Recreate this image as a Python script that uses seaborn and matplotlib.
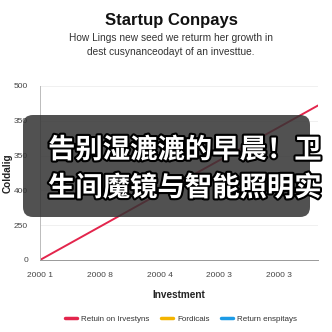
import matplotlib
matplotlib.use("Agg")
import matplotlib.pyplot as plt
import matplotlib.patheffects as pe
from matplotlib.patches import FancyBboxPatch
from matplotlib.lines import Line2D
import seaborn as sns
import pandas as pd

# ---- data ----
x_positions = [0, 4.65]
returns = [0, 444]
x_tick_pos = [0, 1, 2, 3, 4]
x_tick_labels = ["2000 1", "2000 8", "2000 4", "2000 3", "2000 3"]
y_tick_pos = [0, 100, 200, 300, 400, 500]
y_tick_labels = ["0", "250", "400", "350", "350", "500"]
legend_labels = ["Retuin on Irvestyns", "Fordicais", "Return enspitays"]
legend_colors = ["#e3254c", "#f4b400", "#1c9be6"]
title = "Startup Conpays"
subtitle = "How Lings new seed we returm her growth in\ndest cusynanceodayt of an investtue."
overlay_lines = ["告别湿漉漉的早晨！卫", "生间魔镜与智能照明实"]

sns.set_theme(style="white")
plt.rcParams["font.family"] = ["Liberation Sans", "DejaVu Sans"]

W = H = 332
fig = plt.figure(figsize=(3.32, 3.32), dpi=100)
ax = fig.add_axes([40 / W, 1 - 260 / H, (318 - 40) / W, (260 - 86) / H])

df = pd.DataFrame({"x": x_positions, "y": returns})
sns.lineplot(data=df, x="x", y="y", ax=ax, color=legend_colors[0], linewidth=1.4)

ax.set_xlim(0, 4.65)
ax.set_ylim(0, 500)
ax.set_xticks(x_tick_pos)
ax.set_xticklabels(x_tick_labels, fontsize=6, color="#444444")
ax.set_yticks(y_tick_pos)
ax.set_yticklabels(y_tick_labels, fontsize=6, color="#444444")
ax.tick_params(axis="both", length=2.5, width=0.6, color="#888888", pad=6)
ax.grid(axis="y", color="#eeeeee", linewidth=0.6)
for s in ["top", "right"]:
    ax.spines[s].set_visible(False)
ax.spines["left"].set_color("#bbbbbb")
ax.spines["left"].set_linewidth(0.7)
ax.spines["bottom"].set_color("#999999")
ax.spines["bottom"].set_linewidth(0.7)
ax.set_xlabel("Investment", fontsize=7.2, fontweight="bold", color="#222222", labelpad=8)
ax.set_ylabel("Coldalig", fontsize=7.2, fontweight="bold", color="#222222")
ax.yaxis.set_label_coords((13 - 40) / 278, 0.5)

fig.text(171 / W, 1 - 21 / H, title, ha="center", va="center", fontsize=12,
         fontweight="bold", color="#111111")
fig.text(171 / W, 1 - 45 / H, subtitle, ha="center", va="center", fontsize=7.3,
         color="#333333", linespacing=1.45)

handles = [Line2D([], [], color=c, linewidth=2.5) for c in legend_colors]
fig.legend(handles, legend_labels, loc="center", bbox_to_anchor=(181 / W, 1 - 319 / H),
           ncol=3, frameon=False, fontsize=5.8, handlelength=1.5, columnspacing=1.4,
           handletextpad=0.5, labelcolor="#333333")

# overlay caption
box = FancyBboxPatch((23 / W, 1 - 217 / H), (310 - 23) / W, (217 - 115) / H,
                     boxstyle="round,pad=0,rounding_size=0.03",
                     transform=fig.transFigure, facecolor="#333333", alpha=0.85,
                     edgecolor="none", zorder=10)
fig.patches.append(box)
for i, line in enumerate(overlay_lines):
    fig.text(48 / W, 1 - (150 + 38 * i) / H, line, ha="left", va="center",
             fontsize=19.7, fontweight="bold", color="white",
             family=["Noto Sans CJK SC", "DejaVu Sans"], zorder=11,
             path_effects=[pe.withStroke(linewidth=3, foreground="black")])

fig.savefig("out.png", dpi=100, facecolor="white")
